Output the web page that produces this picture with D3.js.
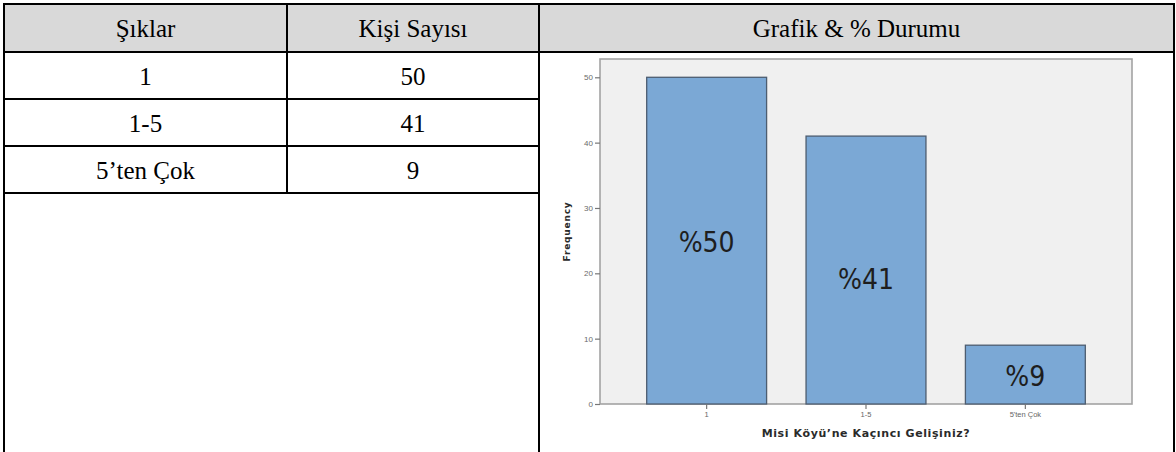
<!DOCTYPE html>
<html lang="tr">
  <head>
    <meta charset="utf-8">
    <title>Misi Köyü</title>
    <script src="https://cdnjs.cloudflare.com/ajax/libs/d3/7.8.5/d3.min.js"></script>
    <style type="text/css">
      body { margin: 0; background: #fff; }
      svg { display: block; }
    </style>
  </head>
  <body>
    <script type="text/javascript">
    // data
    var headers = ["Şıklar", "Kişi Sayısı", "Grafik & % Durumu"];
    var options = ["1", "1-5", "5’ten Çok"];
    var chartLabels = ["1", "1-5", "5'ten Çok"];
    var counts = [50, 41, 9];
    var yTicks = [0, 10, 20, 30, 40, 50];

    var w = 1176;
    var h = 452;

    var svg = d3.select("body")
                .append("svg")
                .attr("width", w)
                .attr("height", h);

    // ---- table ----
    var colX = [4, 287, 539, 1174];
    var rowY = [4, 52, 99, 146, 193];

    svg.append("rect")
       .attr("x", colX[0]).attr("y", rowY[0])
       .attr("width", colX[3] - colX[0]).attr("height", rowY[1] - rowY[0])
       .attr("fill", "#d9d9d9");

    var serif = "'Liberation Serif', 'Times New Roman', serif";

    svg.selectAll("text.head")
       .data(headers)
       .enter()
       .append("text")
       .attr("class", "head")
       .attr("x", function(d, i) { return (colX[i] + colX[i + 1]) / 2; })
       .attr("y", (rowY[0] + rowY[1]) / 2 + 9)
       .attr("text-anchor", "middle")
       .attr("font-family", serif)
       .attr("font-size", "25px")
       .attr("fill", "#000")
       .text(function(d) { return d; });

    var rows = svg.selectAll("g.row")
       .data(options)
       .enter()
       .append("g")
       .attr("class", "row");

    rows.append("text")
       .attr("x", (colX[0] + colX[1]) / 2)
       .attr("y", function(d, i) { return (rowY[i + 1] + rowY[i + 2]) / 2 + 9; })
       .attr("text-anchor", "middle")
       .attr("font-family", serif)
       .attr("font-size", "25px")
       .text(function(d) { return d; });

    rows.append("text")
       .attr("x", (colX[1] + colX[2]) / 2)
       .attr("y", function(d, i) { return (rowY[i + 1] + rowY[i + 2]) / 2 + 9; })
       .attr("text-anchor", "middle")
       .attr("font-family", serif)
       .attr("font-size", "25px")
       .text(function(d, i) { return counts[i]; });

    // table rules
    var lines = svg.append("g")
       .attr("stroke", "#000")
       .attr("stroke-width", 2);

    lines.append("line").attr("x1", colX[0] - 1).attr("x2", colX[3] + 1).attr("y1", rowY[0]).attr("y2", rowY[0]);
    lines.append("line").attr("x1", colX[0] - 1).attr("x2", colX[3] + 1).attr("y1", rowY[1]).attr("y2", rowY[1]);
    [rowY[2], rowY[3], rowY[4]].forEach(function(y) {
      lines.append("line").attr("x1", colX[0] - 1).attr("x2", colX[2] + 1).attr("y1", y).attr("y2", y);
    });
    lines.append("line").attr("x1", colX[0]).attr("x2", colX[0]).attr("y1", rowY[0] - 1).attr("y2", h);
    lines.append("line").attr("x1", colX[1]).attr("x2", colX[1]).attr("y1", rowY[0]).attr("y2", rowY[4]);
    lines.append("line").attr("x1", colX[2]).attr("x2", colX[2]).attr("y1", rowY[0]).attr("y2", h);
    lines.append("line").attr("x1", colX[3]).attr("x2", colX[3]).attr("y1", rowY[0] - 1).attr("y2", h);

    // ---- SPSS style bar chart ----
    var plot = { left: 600, right: 1132, top: 59, bottom: 404 };

    var x = d3.scaleBand()
              .domain(chartLabels)
              .range([plot.left, plot.right])
              .paddingInner(0.2476)
              .paddingOuter(0.293);

    var y = d3.scaleLinear()
              .domain([0, 52.8])
              .range([plot.bottom, plot.top]);

    svg.append("rect")
       .attr("x", plot.left).attr("y", plot.top)
       .attr("width", plot.right - plot.left)
       .attr("height", plot.bottom - plot.top)
       .attr("fill", "#f0f0f0")
       .attr("stroke", "#a3a3a3")
       .attr("stroke-width", 1.6);

    svg.selectAll("rect.bar")
       .data(counts)
       .enter()
       .append("rect")
       .attr("class", "bar")
       .attr("x", function(d, i) { return x(chartLabels[i]); })
       .attr("y", function(d) { return y(d); })
       .attr("width", x.bandwidth())
       .attr("height", function(d) { return y(0) - y(d); })
       .attr("fill", "#7ba8d5")
       .attr("stroke", "#4d5d70")
       .attr("stroke-width", 1.3);

    // the pasted % labels sit roughly mid-bar; the middle one was dropped a bit lower
    var total = d3.sum(counts);
    svg.selectAll("text.pct")
       .data(counts)
       .enter()
       .append("text")
       .attr("class", "pct")
       .attr("x", function(d, i) { return x(chartLabels[i]) + x.bandwidth() / 2; })
       .attr("y", function(d, i) { return y(d / 2) + (i == 1 ? 19 : 11); })
       .attr("text-anchor", "middle")
       .attr("font-family", "'Liberation Sans Narrow', 'DejaVu Sans Condensed', sans-serif")
       .attr("font-size", "28px")
       .attr("fill", "#1e1e1e")
       .text(function(d) { return "%" + Math.round(d / total * 100); });

    // axes
    var yAxis = svg.append("g")
       .attr("transform", "translate(" + plot.left + ",0)")
       .call(d3.axisLeft(y).tickValues(yTicks).tickSize(5).tickPadding(2));
    yAxis.select(".domain").remove();
    yAxis.selectAll("line").attr("stroke", "#777").attr("stroke-width", 1.2);
    yAxis.selectAll("text")
         .attr("font-family", "'Liberation Sans', Arial, sans-serif")
         .attr("font-size", "8px")
         .attr("fill", "#6a6a6a");

    var xAxis = svg.append("g")
       .attr("transform", "translate(0," + plot.bottom + ")")
       .call(d3.axisBottom(x).tickSize(5).tickPadding(3));
    xAxis.select(".domain").remove();
    xAxis.selectAll("line").attr("stroke", "#777").attr("stroke-width", 1.2);
    xAxis.selectAll("text")
         .attr("font-family", "'Liberation Sans', Arial, sans-serif")
         .attr("font-size", "7.5px")
         .attr("fill", "#666");

    svg.append("text")
       .attr("transform", "translate(570," + (plot.top + plot.bottom) / 2 + ") rotate(-90)")
       .attr("text-anchor", "middle")
       .attr("font-family", "'DejaVu Sans', sans-serif")
       .attr("font-weight", "bold")
       .attr("font-size", "9px")
       .attr("letter-spacing", "0.8px")
       .attr("fill", "#2a2a2a")
       .text("Frequency");

    svg.append("text")
       .attr("x", (plot.left + plot.right) / 2)
       .attr("y", 437)
       .attr("text-anchor", "middle")
       .attr("font-family", "'DejaVu Sans', sans-serif")
       .attr("font-weight", "bold")
       .attr("font-size", "11px")
       .attr("letter-spacing", "0.6px")
       .attr("fill", "#2a2a2a")
       .text("Misi Köyü’ne Kaçıncı Gelişiniz?");
    </script>
  </body>
</html>
